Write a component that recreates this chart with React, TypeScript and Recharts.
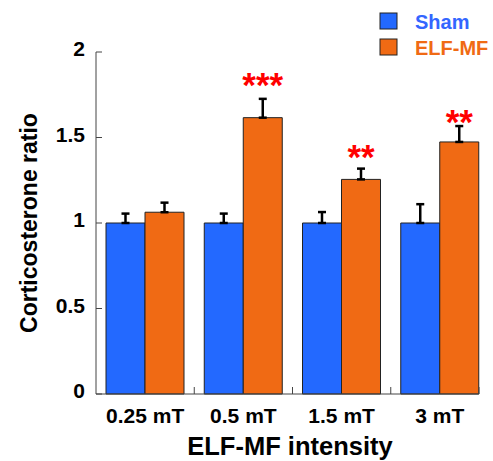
import { BarChart, Bar, XAxis, YAxis, ErrorBar, LabelList, Legend, Label } from 'recharts'

const categories = ['0.25 mT', '0.5 mT', '1.5 mT', '3 mT']
const sham = [1, 1, 1, 1]
const shamErr = [0.055, 0.055, 0.064, 0.11]
const elf = [1.063, 1.616, 1.255, 1.474]
const elfErr = [0.056, 0.11, 0.063, 0.093]
const stars = ['', '***', '**', '**']
const starLevel = [0, 1.857, 1.436, 1.64]
const yTicks = [0, 0.5, 1, 1.5, 2]

const BLUE = '#2369ff'
const ORANGE = '#f06a14'
const AXIS = '#444'
const FONT = 'Arial, "Liberation Sans", sans-serif'

const data = categories.map((c, i) => ({
  name: c,
  sham: sham[i],
  shamErr: [0, shamErr[i]],
  elf: elf[i],
  elfErr: [0, elfErr[i]],
}))

const YTick = ({ x, y, payload }: any) => (
  <g>
    <line x1={x + 11} x2={x + 17} y1={y} y2={y} stroke={AXIS} />
    <text x={x} y={y + 4} textAnchor="end" fontFamily={FONT} fontSize={21} fontWeight={700} fill="#000">
      {payload.value}
    </text>
  </g>
)

// labels sit in the middle of each band, tick marks on the band edges
const XTick = ({ x, y, payload, index, visibleTicksCount }: any) => {
  const half = payload.offset ?? 49
  const n = visibleTicksCount ?? categories.length
  const last = index === n - 1
  const tx = last ? x + half - 10 : x + half
  return (
    <g>
      {index === 0 && (
        <line x1={x - half} x2={x - half + 2 * half * n - 10} y1={y} y2={y} stroke={AXIS} />
      )}
      <line x1={tx} x2={tx} y1={y} y2={y - 7} stroke={AXIS} />
      <text x={x} y={y + 29} textAnchor="middle" fontFamily={FONT} fontSize={21} fontWeight={700} fill="#000">
        {payload.value}
      </text>
    </g>
  )
}

const StarLabel = ({ x, y, width, height, index }: any) => {
  const txt = stars[index]
  if (!txt) return null
  const pxPerUnit = height / elf[index]
  const cy = y + height - starLevel[index] * pxPerUnit
  return (
    <text x={x + width / 2} y={cy + 0.575 * 35} textAnchor="middle" fontFamily={FONT} fontSize={35} fontWeight={700} fill="#ff0000">
      {txt}
    </text>
  )
}

const LegendBox = () => (
  <svg width={113} height={52} style={{ display: 'block' }}>
    <rect x={2} y={5} width={17} height={16} fill={BLUE} stroke="#222" />
    <text x={37} y={21} fontFamily={FONT} fontSize={20} fontWeight={700} fill="#3366ff">Sham</text>
    <rect x={2} y={31} width={17} height={16} fill={ORANGE} stroke="#222" />
    <text x={37} y={47} fontFamily={FONT} fontSize={20} fontWeight={700} fill={ORANGE}>ELF-MF</text>
  </svg>
)

export default function App() {
  return (
    <div style={{ position: 'absolute', left: 0, top: 0 }}>
      <BarChart
        width={493}
        height={461}
        data={data}
        margin={{ top: 52, right: 4, left: 0, bottom: 0 }}
        barCategoryGap={10}
        barGap={0}
      >
        <XAxis
          dataKey="name"
          height={67}
          axisLine={false}
          tickLine={false}
          tickSize={0}
          tickMargin={0}
          tick={<XTick />}
          interval={0}
        >
          <Label
            content={() => (
              <text x={290} y={455} textAnchor="middle" fontFamily={FONT} fontSize={25.5} fontWeight={700} fill="#000">
                ELF-MF intensity
              </text>
            )}
          />
        </XAxis>
        <YAxis
          width={96}
          domain={[0, 2]}
          ticks={yTicks}
          axisLine={{ stroke: AXIS }}
          tickLine={false}
          tickSize={0}
          tickMargin={11}
          tick={<YTick />}
          interval={0}
        >
          <Label
            content={() => (
              <text x={37} y={223} transform="rotate(-90, 37, 223)" textAnchor="middle" fontFamily={FONT} fontSize={23} fontWeight={700} fill="#000">
                Corticosterone ratio
              </text>
            )}
          />
        </YAxis>
        <Legend
          layout="vertical"
          verticalAlign="middle"
          align="center"
          content={<LegendBox />}
          wrapperStyle={{ left: 378, top: 8, width: 113, height: 52 }}
        />
        <Bar dataKey="sham" name="Sham" fill={BLUE} stroke="#222" strokeWidth={1} isAnimationActive={false}>
          <ErrorBar dataKey="shamErr" width={4} stroke="#000" strokeWidth={2.5} direction="y" />
        </Bar>
        <Bar dataKey="elf" name="ELF-MF" fill={ORANGE} stroke="#222" strokeWidth={1} isAnimationActive={false}>
          <ErrorBar dataKey="elfErr" width={4} stroke="#000" strokeWidth={2.5} direction="y" />
          <LabelList dataKey="elf" content={<StarLabel />} />
        </Bar>
      </BarChart>
    </div>
  )
}
